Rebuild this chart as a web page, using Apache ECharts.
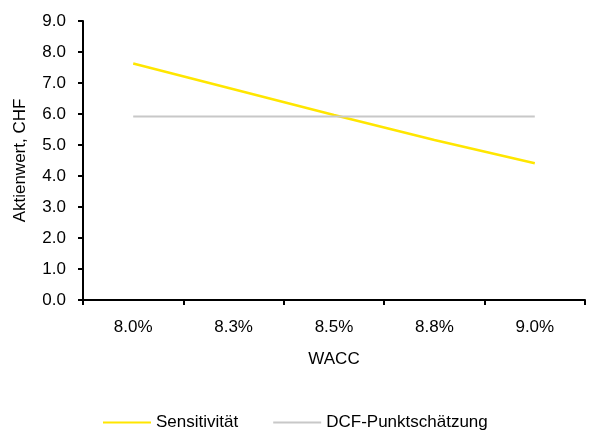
<!DOCTYPE html>
<html>
<head>
<meta charset="utf-8">
<script src="https://cdn.jsdelivr.net/npm/echarts@6/dist/echarts.min.js"></script>
<style>html,body{margin:0;padding:0;background:#fff}#c{width:589px;height:431px}</style>
</head>
<body>
<div id="c"></div>
<script>
const categories = ['8.0%', '8.3%', '8.5%', '8.8%', '9.0%'];
const sensitivity = [7.63, 6.80, 5.97, 5.16, 4.41];
const dcfPoint = [5.92, 5.92, 5.92, 5.92, 5.92];
const yTicks = { min: 0, max: 9, interval: 1 };

const FONT = '"Liberation Sans Narrow", "Arial Narrow", "Liberation Sans", Arial, sans-serif';
const chart = echarts.init(document.getElementById('c'));
chart.setOption({
  animation: false,
  textStyle: { fontFamily: FONT },
  grid: { left: 83, right: 4, top: 21, bottom: 131 },
  xAxis: {
    type: 'category',
    data: categories,
    boundaryGap: true,
    name: 'WACC',
    nameLocation: 'middle',
    nameGap: 51,
    nameTextStyle: { fontFamily: FONT, fontSize: 17, color: '#000' },
    axisLine: { lineStyle: { color: '#000', width: 2 } },
    axisTick: { show: true, length: 5, lineStyle: { color: '#000', width: 2 } },
    axisLabel: { fontFamily: FONT, fontSize: 17, color: '#000', margin: 19 }
  },
  yAxis: {
    type: 'value',
    min: yTicks.min, max: yTicks.max, interval: yTicks.interval,
    name: 'Aktienwert, CHF',
    nameLocation: 'middle',
    nameGap: 54,
    nameTextStyle: { fontFamily: FONT, fontSize: 17, color: '#000' },
    axisLine: { show: true, lineStyle: { color: '#000', width: 2 } },
    axisTick: { show: true, length: 5, lineStyle: { color: '#000', width: 2 } },
    axisLabel: { fontFamily: FONT, fontSize: 17, color: '#000', margin: 17, formatter: v => v.toFixed(1) },
    splitLine: { show: false }
  },
  legend: {
    top: 414,
    left: 103,
    padding: 0,
    itemWidth: 48,
    itemHeight: 2,
    itemGap: 35,
    icon: 'rect',
    textStyle: { fontFamily: FONT, fontSize: 17, color: '#000' },
    data: ['Sensitivität', 'DCF-Punktschätzung']
  },
  series: [
    { name: 'Sensitivität', type: 'line', data: sensitivity, symbol: 'none',
      lineStyle: { color: '#FFE600', width: 2.5 }, itemStyle: { color: '#FFE600' } },
    { name: 'DCF-Punktschätzung', type: 'line', data: dcfPoint, symbol: 'none',
      lineStyle: { color: '#C8C8C8', width: 2 }, itemStyle: { color: '#C8C8C8' } }
  ]
});
</script>
</body>
</html>
